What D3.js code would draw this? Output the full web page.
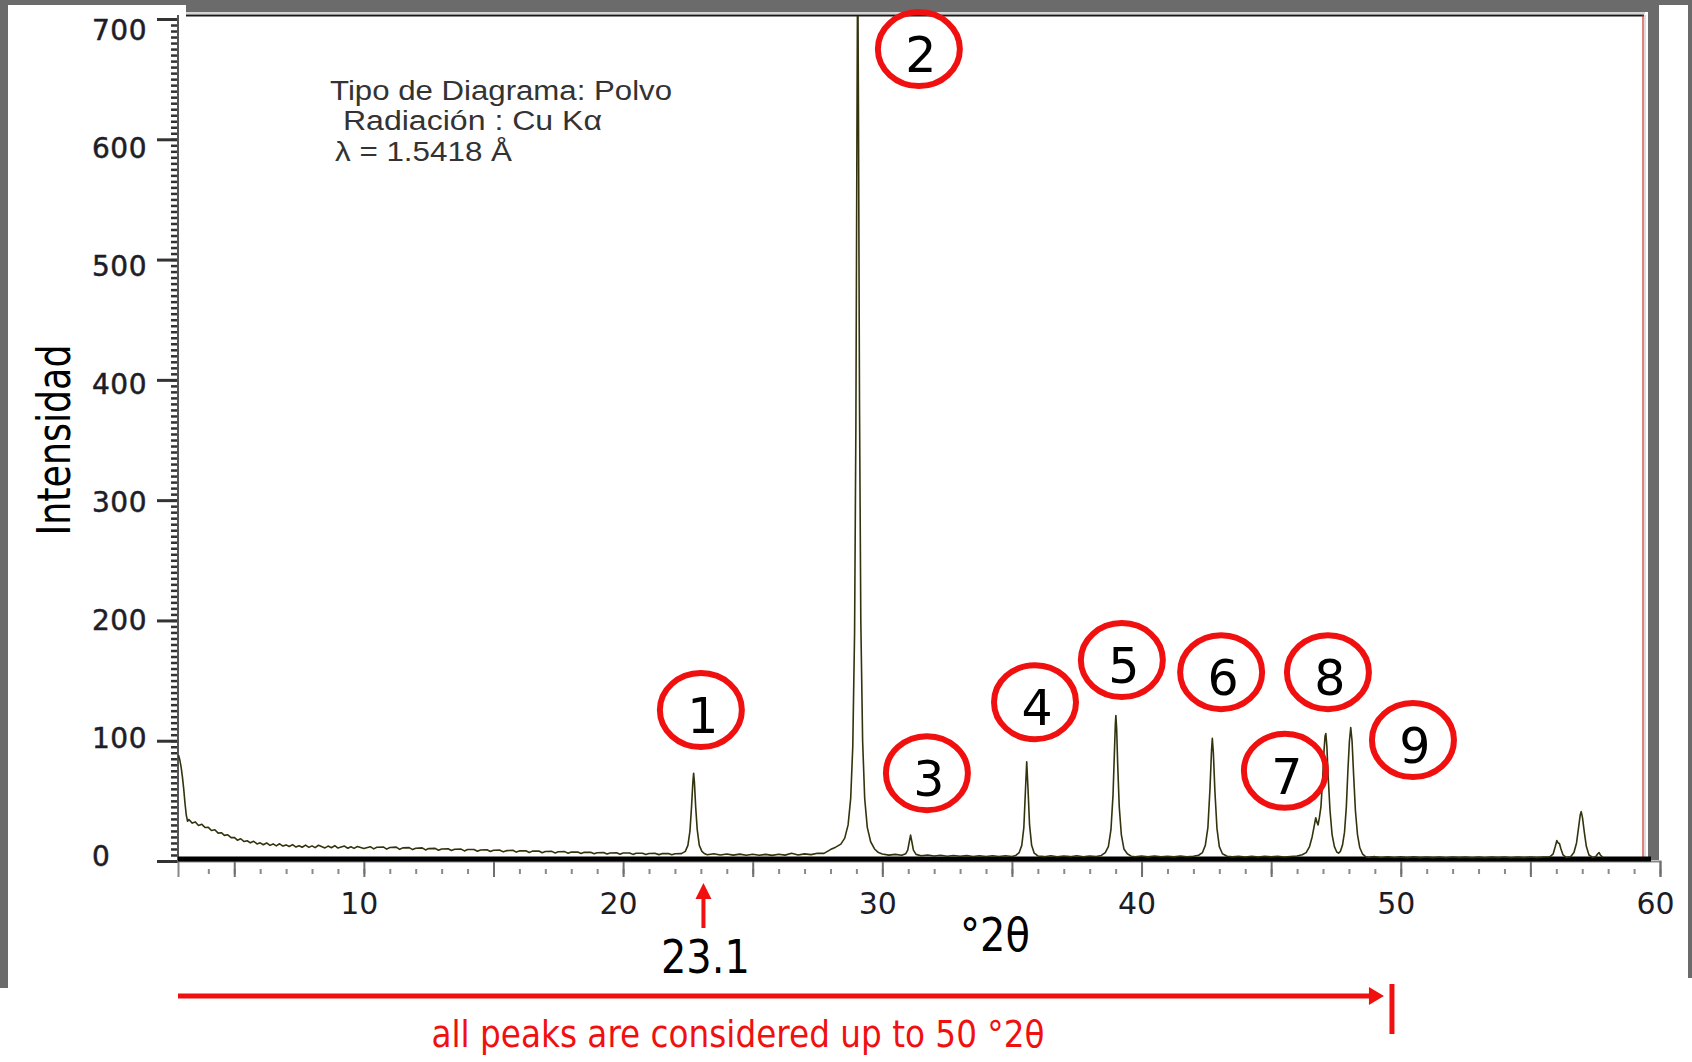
<!DOCTYPE html>
<html>
<head>
<meta charset="utf-8">
<script src="https://cdn.jsdelivr.net/npm/d3@7"></script>
<style>
  body { margin: 0; background: #fff; }
  svg text { font-family: "DejaVu Sans", sans-serif; }
  svg text.info { font-family: "Liberation Sans", Arial, sans-serif; }
</style>
</head>
<body>
<div id="chart"></div>
<script>
// XRD scan: [°2θ, intensity]
const scan = [
  [2.85,88],[2.9,84],[2.95,78],[3.0,70],[3.05,60],[3.1,48],[3.15,38],[3.2,33],[3.25,34.5],
  [3.38,31.5],[3.5,32.5],[3.62,29.5],[3.75,30.5],[3.88,27.8],[4.0,28],[4.12,25.4],[4.25,26],
  [4.38,23.2],[4.5,23.5],[4.62,21.3],[4.75,21.8],[4.88,19.4],[5.0,19.6],[5.12,17.3],[5.25,18.5],
  [5.38,16.2],[5.5,16.8],[5.62,15.1],[5.75,16.4],[5.88,14.2],[6.0,15.1],[6.12,13.5],[6.25,15.0],
  [6.38,13.0],[6.5,14.2],[6.62,12.6],[6.75,14.3],[6.88,12.4],[7.0,13.4],[7.12,12.0],[7.25,13.6],
  [7.38,11.6],[7.5,12.7],[7.62,11.4],[7.75,13.2],[7.88,11.3],[8.0,12.6],[8.12,11.1],[8.25,13.1],
  [8.5,10.9],[8.62,12.4],[8.75,11.0],[8.88,12.8],[9.0,10.8],[9.25,12.4],[9.38,10.6],
  [9.5,11.8],[9.62,10.5],[9.75,12.0],[10.0,10.4],[10.25,11.9],[10.38,10.1],[10.5,11.4],
  [10.75,11.7],[10.88,9.9],[11.0,11.2],[11.25,11.5],[11.38,9.7],[11.5,10.9],[11.75,11.1],
  [11.88,9.5],[12.0,10.6],[12.25,10.9],[12.38,9.2],[12.5,10.3],[12.75,10.5],[12.88,8.9],
  [13.0,10.0],[13.25,10.2],[13.38,8.7],[13.5,9.8],[13.75,9.9],[13.88,8.4],[14.0,9.5],
  [14.25,9.6],[14.38,8.1],[14.5,9.2],[14.75,9.4],[14.88,7.9],[15.0,8.9],[15.25,9.0],
  [15.38,7.6],[15.5,8.6],[15.75,8.9],[15.88,7.4],[16.0,8.4],[16.25,8.5],[16.38,7.1],
  [16.5,8.2],[16.75,8.3],[16.88,6.9],[17.0,7.9],[17.25,8.0],[17.38,6.7],[17.5,7.7],
  [17.75,7.8],[17.88,6.5],[18.0,7.4],[18.25,7.5],[18.38,6.2],[18.5,7.2],[18.75,7.2],
  [18.88,6.0],[19.0,6.9],[19.25,7.0],[19.38,5.8],[19.5,6.7],[19.75,6.8],[19.88,5.6],
  [20.0,6.6],[20.25,6.7],[20.38,5.5],[20.5,6.4],[20.75,6.5],[20.88,5.4],[21.0,6.2],
  [21.25,6.3],[21.38,5.3],[21.5,6.1],[21.75,6.2],[21.88,5.2],[22.0,6.0],[22.25,6.1],
  // peak 1
  [22.4,8],[22.5,13],[22.58,25],[22.64,45],[22.69,65],[22.72,73],[22.75,66],[22.8,45],
  [22.86,26],[22.94,13],[23.04,8],[23.15,6],
  [23.25,5.2],[23.5,6.0],[23.75,5.0],[24.0,5.8],[24.25,4.9],[24.5,5.7],[24.75,4.8],[25.0,5.6],
  [25.25,4.8],[25.5,5.5],[25.75,4.7],[26.0,5.6],[26.25,4.9],[26.5,6.4],[26.75,5.0],[27.0,5.9],
  [27.25,5.3],[27.5,6.5],[27.75,6.3],
  // peak 2
  [28.0,9.5],[28.2,11.5],[28.4,14],[28.55,19],[28.68,30],[28.78,52],[28.86,95],[28.93,190],
  [28.98,360],[29.02,600],[29.05,760],[29.08,620],[29.12,380],[29.17,200],[29.24,100],
  [29.32,52],[29.42,28],[29.55,16],[29.7,10],[29.85,7],
  [30.0,5.8],[30.25,4.9],[30.5,5.5],[30.75,4.8],[30.9,6],
  // peak 3
  [30.98,9],[31.04,16],[31.09,21.5],[31.14,16],[31.2,9],[31.3,5.5],
  [31.5,4.4],[31.75,5.0],[32.0,4.1],[32.25,4.8],[32.5,4.0],[32.75,4.6],[33.0,3.9],[33.25,4.5],
  [33.5,3.8],[33.75,4.4],[34.0,3.8],[34.25,4.3],[34.5,3.7],[34.75,4.4],[35.0,3.8],[35.15,4.6],
  // peak 4
  [35.28,7],[35.38,13],[35.46,28],[35.52,58],[35.57,82.5],[35.62,60],[35.68,30],[35.76,13],
  [35.86,6.5],[36.0,4.2],
  [36.25,3.6],[36.5,4.3],[36.75,3.5],[37.0,4.2],[37.25,3.6],[37.5,4.3],[37.75,3.5],[38.0,4.1],
  [38.25,3.7],[38.45,4.6],
  // peak 5
  [38.6,7],[38.72,12],[38.82,26],[38.9,55],[38.95,88],[38.99,114],[39.01,121],[39.04,110],
  [39.08,80],[39.14,45],[39.22,22],[39.32,10],[39.45,6],[39.6,4],
  [39.75,3.5],[40.0,4.2],[40.25,3.4],[40.5,4.1],[40.75,3.5],[41.0,4.0],[41.25,3.4],[41.5,4.1],
  [41.75,3.5],[42.0,4.0],[42.2,4.8],
  // peak 6
  [42.35,7],[42.46,13],[42.56,28],[42.64,60],[42.7,92],[42.73,102],[42.77,90],[42.83,58],
  [42.91,27],[43.0,12],[43.12,6],[43.3,4],
  [43.5,3.4],[43.75,4.0],[44.0,3.3],[44.25,3.9],[44.5,3.3],[44.75,3.9],[45.0,3.4],[45.25,4.0],
  [45.5,3.3],[45.75,3.8],[46.0,4.2],[46.2,5.2],
  // peaks 7, 8, 9
  [46.35,7],[46.48,12],[46.58,20],[46.66,29],[46.72,36],[46.77,32],[46.81,30],[46.86,36],
  [46.92,45],[46.98,66],[47.04,92],[47.08,104],[47.11,106],[47.15,95],[47.2,70],[47.27,42],
  [47.35,22],[47.44,12],[47.53,7.5],[47.6,6.5],[47.67,8],[47.75,13],[47.83,24],[47.9,45],
  [47.96,75],[48.02,100],[48.07,111],[48.12,100],[48.18,72],[48.25,42],[48.33,22],[48.42,11],
  [48.52,6],[48.65,3.5],
  [48.75,3.0],[49.0,3.6],[49.25,2.9],[49.5,3.5],[49.75,2.9],[50.0,3.4],[50.25,2.8],[50.5,3.4],
  [50.75,2.8],[51.0,3.3],[51.25,2.8],[51.5,3.3],[51.75,2.7],[52.0,3.3],[52.25,2.8],[52.5,3.2],
  [52.75,2.7],[53.0,3.2],[53.25,2.7],[53.5,3.2],[53.75,2.8],[54.0,3.3],[54.25,2.7],[54.5,3.2],
  [54.75,2.8],[55.0,3.3],[55.25,2.8],[55.5,3.3],[55.75,3.5],
  [55.88,6],[55.96,12],[56.02,17],[56.07,15],[56.12,14.5],[56.18,10],[56.26,5],[56.38,3],
  [56.55,3.5],[56.68,7],[56.78,15],[56.86,28],[56.92,38],[56.96,41],[57.01,36],[57.08,24],
  [57.16,12],[57.26,5],[57.4,3],[57.52,3.5],[57.6,6],[57.65,7],[57.7,5],[57.8,3]
];

const yTickLabels = [0, 100, 200, 300, 400, 500, 600, 700];
const xTickLabels = [10, 20, 30, 40, 50, 60];
const xMajorTicks = [5, 10, 15, 20, 25, 30, 35, 40, 45, 50, 55, 60];

// circled peak numbers (centre of each ellipse, in chart units)
const peakIds = ["1", "2", "3", "4", "5", "6", "7", "8", "9"];
const peakLabelX = [23.0, 31.41, 31.72, 35.89, 39.24, 43.07, 45.53, 47.19, 50.47];
const peakLabelY = [125.5, 675, 73, 132, 167, 157, 75, 157, 100.6];

const infoLines = ["Tipo de Diagrama: Polvo", " Radiación : Cu Kα", "λ = 1.5418 Å"];
const markedAngle = 23.1;
const cutoffAngle = 49.66;

const W = 1692, H = 1062;
const svg = d3.select("#chart").append("svg").attr("width", W).attr("height", H);

const x = d3.scaleLinear().domain([2.83, 60]).range([178, 1660]);
const y = d3.scaleLinear().domain([0, 700]).range([861, 19]);
// the printed tick numbers sit on a slightly tighter spacing than the ticks
const yLabelPos = d3.scaleLinear().domain([0, 700]).range([856, 30]);

// grey frame from the screenshot
const grey = "#6b6b6b";
svg.append("rect").attr("x", 0).attr("y", 0).attr("width", W).attr("height", 12).attr("fill", grey);
svg.append("rect").attr("x", 8).attr("y", 5).attr("width", 178).attr("height", 8).attr("fill", "#fff");
svg.append("rect").attr("x", 0).attr("y", 0).attr("width", 8).attr("height", 988).attr("fill", grey);
svg.append("rect").attr("x", 1648).attr("y", 0).attr("width", 11).attr("height", 860).attr("fill", grey);
svg.append("rect").attr("x", 1659).attr("y", 5).attr("width", 29).attr("height", 8).attr("fill", "#fff");
svg.append("rect").attr("x", 1688).attr("y", 0).attr("width", 4).attr("height", 978).attr("fill", grey);

// plot frame (top + right)
svg.append("line").attr("x1", 186).attr("x2", 1645).attr("y1", 13).attr("y2", 13)
  .attr("stroke", "#aaa").attr("stroke-width", 1);
svg.append("line").attr("x1", 186).attr("x2", 1644).attr("y1", 15.5).attr("y2", 15.5)
  .attr("stroke", "#1a1a1a").attr("stroke-width", 2);
svg.append("line").attr("x1", 1643).attr("x2", 1643).attr("y1", 15).attr("y2", 858)
  .attr("stroke", "#c23030").attr("stroke-width", 1.2);
svg.append("line").attr("x1", 1645).attr("x2", 1645).attr("y1", 15).attr("y2", 858)
  .attr("stroke", "#bbb").attr("stroke-width", 1);

// y axis
const yMinor = d3.range(0, 701, 5);
const gyMinor = svg.append("g").attr("transform", "translate(178,0)")
  .call(d3.axisLeft(y).tickValues(yMinor).tickSize(7).tickFormat(""));
gyMinor.select(".domain").remove();
gyMinor.selectAll("line").attr("stroke", "#333").attr("stroke-width", 2.5);

const gy = svg.append("g").attr("transform", "translate(178,0)")
  .call(d3.axisLeft(y).tickValues(yTickLabels).tickSize(21).tickFormat(""));
gy.select(".domain").remove();
gy.selectAll("line").attr("stroke", "#333").attr("stroke-width", 3);

svg.append("g").selectAll("text").data(yTickLabels).join("text")
  .attr("x", 92).attr("y", d => yLabelPos(d) + 10)
  .attr("font-size", 28).attr("letter-spacing", 0.5)
  .attr("fill", "#1d1d28").attr("stroke", "#1d1d28").attr("stroke-width", 0.5)
  .text(d => d);

svg.append("line").attr("x1", 178).attr("x2", 178).attr("y1", 15).attr("y2", 861)
  .attr("stroke", "#555").attr("stroke-width", 2);

// x axis
const xMinor = d3.range(4, 61, 1);
const gxMinor = svg.append("g").attr("transform", "translate(0,869)")
  .call(d3.axisBottom(x).tickValues(xMinor).tickSize(5).tickFormat(""));
gxMinor.select(".domain").remove();
gxMinor.selectAll("line").attr("stroke", "#8a8a8a").attr("stroke-width", 2);

const gx = svg.append("g").attr("transform", "translate(0,861)")
  .call(d3.axisBottom(x).tickValues(xMajorTicks).tickSize(16).tickPadding(16)
    .tickFormat(d => xTickLabels.includes(d) ? d : ""));
gx.select(".domain").attr("stroke", "#888").attr("stroke-width", 2);
gx.selectAll("line").attr("stroke", "#6f6f6f").attr("stroke-width", 2);
gx.selectAll("text").attr("font-size", 30).attr("fill", "#1d1d28").attr("dx", -5);

// thick baseline
svg.append("line").attr("x1", 178).attr("x2", 1651).attr("y1", 859).attr("y2", 859)
  .attr("stroke", "#000").attr("stroke-width", 5);

// diffractogram
svg.append("clipPath").attr("id", "plotclip").append("rect")
  .attr("x", 178).attr("y", 16).attr("width", 1465).attr("height", 845);

const line = d3.line().x(d => x(d[0])).y(d => y(d[1]));
svg.append("path").datum(scan)
  .attr("clip-path", "url(#plotclip)")
  .attr("d", line)
  .attr("fill", "none")
  .attr("stroke", "#33330e")
  .attr("stroke-width", 1.6)
  .attr("stroke-linejoin", "round");

// axis titles
svg.append("text")
  .attr("transform", `translate(70,${y(350)}) rotate(-90)`)
  .attr("text-anchor", "middle")
  .attr("font-size", 46)
  .attr("textLength", 191).attr("lengthAdjust", "spacingAndGlyphs")
  .attr("fill", "#000")
  .text("Intensidad");

svg.append("text")
  .attr("x", 960).attr("y", 951)
  .attr("font-size", 46)
  .attr("textLength", 70).attr("lengthAdjust", "spacingAndGlyphs")
  .attr("fill", "#000")
  .text("°2θ");

// info block
const info = svg.append("text").attr("class", "info")
  .attr("font-size", 27).attr("fill", "#333");
const infoX = [330, 334, 335];
const infoY = [100, 130, 161];
const infoLen = [342, 268, 177];
infoLines.forEach((t, i) => {
  info.append("tspan").attr("x", infoX[i]).attr("y", infoY[i])
    .attr("textLength", infoLen[i]).attr("lengthAdjust", "spacingAndGlyphs")
    .attr("xml:space", "preserve")
    .text(t);
});

// circled peak numbers
const red = "#f01010";
const labels = svg.append("g").selectAll("g").data(peakIds).join("g")
  .attr("transform", (d, i) => `translate(${x(peakLabelX[i])},${y(peakLabelY[i])})`);
labels.append("ellipse").attr("rx", 41).attr("ry", 37)
  .attr("fill", "none").attr("stroke", red).attr("stroke-width", 6);
labels.append("text").attr("x", 2).attr("y", 23)
  .attr("text-anchor", "middle").attr("font-size", 49).attr("fill", "#000")
  .text(d => d);

// 23.1 marker
const mx = x(markedAngle);
svg.append("path")
  .attr("d", `M${mx},883 L${mx + 8},899 L${mx + 2},899 L${mx + 2},928 L${mx - 2},928 L${mx - 2},899 L${mx - 8},899 Z`)
  .attr("fill", red);
svg.append("text")
  .attr("x", mx + 2).attr("y", 973)
  .attr("text-anchor", "middle")
  .attr("font-size", 46)
  .attr("textLength", 89).attr("lengthAdjust", "spacingAndGlyphs")
  .attr("fill", "#000")
  .text(markedAngle.toFixed(1));

// range arrow
const cx = x(cutoffAngle);
svg.append("line").attr("x1", x(2.83)).attr("x2", cx - 20).attr("y1", 996).attr("y2", 996)
  .attr("stroke", red).attr("stroke-width", 5);
svg.append("path")
  .attr("d", `M${cx - 8},996 L${cx - 23},987 L${cx - 23},1005 Z`)
  .attr("fill", red);
svg.append("line").attr("x1", cx).attr("x2", cx).attr("y1", 984).attr("y2", 1034)
  .attr("stroke", red).attr("stroke-width", 5);

svg.append("text")
  .attr("x", 738).attr("y", 1047)
  .attr("text-anchor", "middle")
  .attr("font-size", 38)
  .attr("textLength", 613).attr("lengthAdjust", "spacingAndGlyphs")
  .attr("fill", red)
  .text("all peaks are considered up to 50 °2θ");
</script>
</body>
</html>
